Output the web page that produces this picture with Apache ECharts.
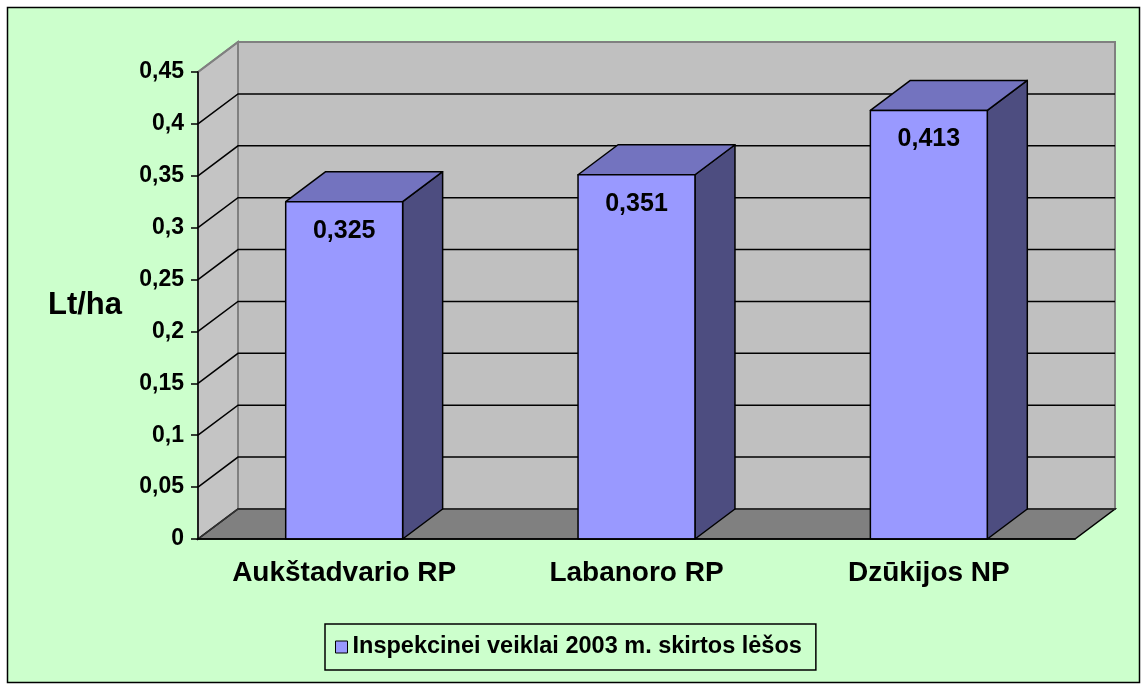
<!DOCTYPE html>
<html>
<head>
<meta charset="utf-8">
<script src="https://cdn.jsdelivr.net/npm/echarts@6/dist/echarts.min.js"></script>
<style>
  html, body { margin: 0; padding: 0; background: #fff; }
  #chart { width: 1144px; height: 687px; }
</style>
</head>
<body>
<div id="chart"></div>
<script>
const categories = ['Aukštadvario RP', 'Labanoro RP', 'Dzūkijos NP']
const values = [0.325, 0.351, 0.413]
const yTicks = [0, 0.05, 0.1, 0.15, 0.2, 0.25, 0.3, 0.35, 0.4, 0.45]
const seriesName = 'Inspekcinei veiklai 2003 m. skirtos lėšos'

// 3d depth offset in px
const DX = 40, DY = -30
const FONT = '"Liberation Sans", Arial, sans-serif'

const chart = echarts.init(document.getElementById('chart'))

function comma(v) {
  return Number(v.toFixed(3)).toString().replace('.', ',')
}

// back wall, floor, left wall + gridlines
function renderWalls(params, api) {
  const cs = params.coordSys
  const v = api.value(1)
  const y = api.coord([0, v])[1]
  const xl = cs.x, xr = cs.x + cs.width
  const yb = cs.y + cs.height, yt = cs.y
  const children = []
  if (params.dataIndex === 0) {
    children.push({
      type: 'polygon',
      shape: {points: [[xl + DX, yt + DY], [xr + DX, yt + DY], [xr + DX, yb + DY], [xl + DX, yb + DY]]},
      style: {fill: '#C0C0C0', stroke: '#808080', lineWidth: 2}
    })
    children.push({
      type: 'polygon',
      shape: {points: [[xl, yt], [xl + DX, yt + DY], [xl + DX, yb + DY], [xl, yb]]},
      style: {fill: '#C4C4C4', stroke: '#808080', lineWidth: 2}
    })
    children.push({
      type: 'polygon',
      shape: {points: [[xl, yb], [xr, yb], [xr + DX, yb + DY], [xl + DX, yb + DY]]},
      style: {fill: '#808080', stroke: '#000', lineWidth: 1.5}
    })
  }
  const isTop = v === yTicks[yTicks.length - 1]
  const col = isTop ? '#808080' : (v === 0 ? '#333' : '#000')
  children.push({
    type: 'polyline',
    shape: {points: [[xl, y], [xl + DX, y + DY], [xr + DX, y + DY]]},
    style: {fill: null, stroke: col, lineWidth: isTop ? 2 : 1.5}
  })
  return {type: 'group', children}
}

function renderBar(params, api) {
  const idx = api.value(0)
  const v = api.value(1)
  const top = api.coord([idx, v])
  const base = api.coord([idx, 0])
  const bw = api.size([1, 0])[0] * 0.4
  const x0 = top[0] - bw / 2, x1 = top[0] + bw / 2
  const yt = top[1], yb = base[1]
  const line = {stroke: '#000', lineWidth: 1.5, lineJoin: 'round'}
  return {
    type: 'group',
    children: [
      {type: 'polygon', shape: {points: [[x1, yb], [x1, yt], [x1 + DX, yt + DY], [x1 + DX, yb + DY]]},
        style: Object.assign({fill: '#4D4D80'}, line)},
      {type: 'polygon', shape: {points: [[x0, yt], [x1, yt], [x1 + DX, yt + DY], [x0 + DX, yt + DY]]},
        style: Object.assign({fill: '#7373BF'}, line)},
      {type: 'polygon', shape: {points: [[x0, yb], [x1, yb], [x1, yt], [x0, yt]]},
        style: Object.assign({fill: '#9999FF'}, line)},
      {type: 'text', x: top[0], y: yt + 29,
        style: {text: comma(v), fill: '#000', font: 'bold 25px ' + FONT, align: 'center', verticalAlign: 'middle'}}
    ]
  }
}

const option = {
  backgroundColor: '#fff',
  animation: false,
  textStyle: {fontFamily: FONT},
  graphic: [{
    type: 'rect', z: -100,
    shape: {x: 7.5, y: 7.5, width: 1132, height: 675},
    style: {fill: '#CCFFCC', stroke: '#000', lineWidth: 1.5}
  }],
  grid: {left: 198, right: 69, top: 72, bottom: 148},
  legend: {
    left: 325, top: 624,
    padding: [11, 14, 11, 10],
    backgroundColor: '#CCFFCC',
    borderColor: '#000', borderWidth: 1.5,
    icon: 'rect', itemWidth: 12, itemHeight: 12,
    itemStyle: {color: '#9999FF', borderColor: '#000', borderWidth: 1},
    textStyle: {fontFamily: FONT, fontWeight: 'bold', fontSize: 23.5, color: '#000'},
    data: [seriesName]
  },
  xAxis: {
    type: 'category', data: categories, z: 5,
    axisLine: {lineStyle: {color: '#000', width: 1.5}},
    axisTick: {length: 8, lineStyle: {color: '#000', width: 1.5}},
    axisLabel: {color: '#000', fontWeight: 'bold', fontSize: 28, margin: 20, fontFamily: FONT},
    splitLine: {show: false}
  },
  yAxis: {
    type: 'value', min: 0, max: 0.45, interval: 0.05, z: 5,
    name: 'Lt/ha', nameLocation: 'middle', nameRotate: 0, nameGap: 76,
    nameTextStyle: {color: '#000', fontWeight: 'bold', fontSize: 31, fontFamily: FONT, align: 'right'},
    axisLine: {show: true, lineStyle: {color: '#000', width: 1.5}},
    axisTick: {show: true, length: 7, lineStyle: {color: '#000', width: 1.5}},
    axisLabel: {color: '#000', fontWeight: 'bold', fontSize: 23, margin: 14, fontFamily: FONT, formatter: comma},
    splitLine: {show: false}
  },
  series: [
    {
      type: 'custom', name: 'walls', z: 1, silent: true,
      renderItem: renderWalls,
      data: yTicks.map(v => [0, v]),
      encode: {x: 0, y: 1}
    },
    {
      type: 'custom', name: seriesName, z: 2,
      itemStyle: {color: '#9999FF', borderColor: '#000', borderWidth: 1},
      renderItem: renderBar,
      data: values.map((v, i) => [i, v]),
      encode: {x: 0, y: 1}
    }
  ]
}

chart.setOption(option)
</script>
</body>
</html>
